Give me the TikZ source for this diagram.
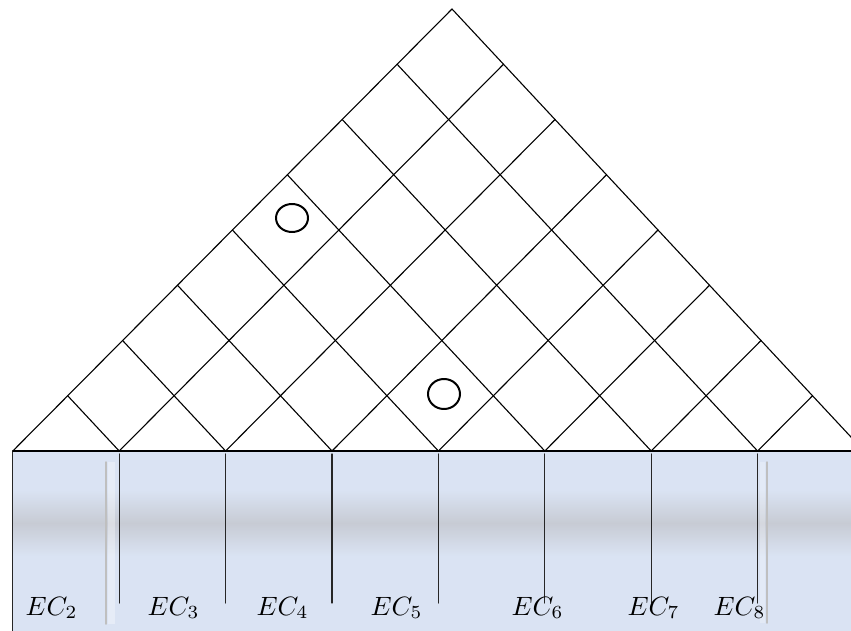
\documentclass[tikz,border=0pt]{standalone}
\definecolor{ecblue}{RGB}{218,227,243}
\definecolor{ecgray}{RGB}{199,203,212}
\tikzset{
	gridline/.style={line width=1.1pt,black},
	divline/.style={line width=1.2pt,black!85},
	ghostline/.style={line width=1.5pt,black!25},
	hole/.style={line width=2pt,black},
	eclabel/.style={scale=2.65,inner sep=0pt,anchor=base west}
}
\begin{document}
\begin{tikzpicture}[x=1pt,y=-1pt,line join=round,line cap=round]
	\useasboundingbox (0,0) rectangle (851,631);
	\clip (0,0) rectangle (851,631);
	% lower band
	\fill[ecblue] (12.8,451) rectangle (860,640);
	\shade[top color=ecblue,bottom color=ecgray] (12.8,490) rectangle (860,523.5);
	\shade[top color=ecgray,bottom color=ecblue] (12.8,523) rectangle (860,556);
	\fill[white,opacity=0.35] (108,462) rectangle (115,624);
	\fill[white,opacity=0.25] (760,462) rectangle (765,623);
	\draw[ghostline] (106,462)--(106,624);
	\draw[ghostline] (767,462)--(767,623);
	\draw[divline] (12.8,451)--(12.8,640);
	% grid
	\foreach \i in {0,...,7}
	\draw[gridline] ({452-54.9*\i},{9+55.25*\i})--({452-54.9*\i+51.5*(8-\i)},451);
	\foreach \j in {0,...,7}
	\draw[gridline] ({452+51.5*\j},{9+55.25*\j})--({452-54.9*(8-\j)+51.5*\j},451);
	\draw[gridline] (12.8,451)--(860,451);
	\foreach \i in {1,...,7}
	\draw[divline] ({452-54.9*\i+51.5*(8-\i)},454)--++(0,149);
	% marks
	\draw[hole] (292,218) ellipse [x radius=16,y radius=14];
	\draw[hole] (444,394) ellipse [x radius=16,y radius=15];
	% labels
	\foreach \n/\x in {2/25,3/147,4/256,5/370,6/511,7/627,8/713}
	\node[eclabel] (ec\n) at (\x,615) {$EC_{\n}$};
\end{tikzpicture}
\end{document}
